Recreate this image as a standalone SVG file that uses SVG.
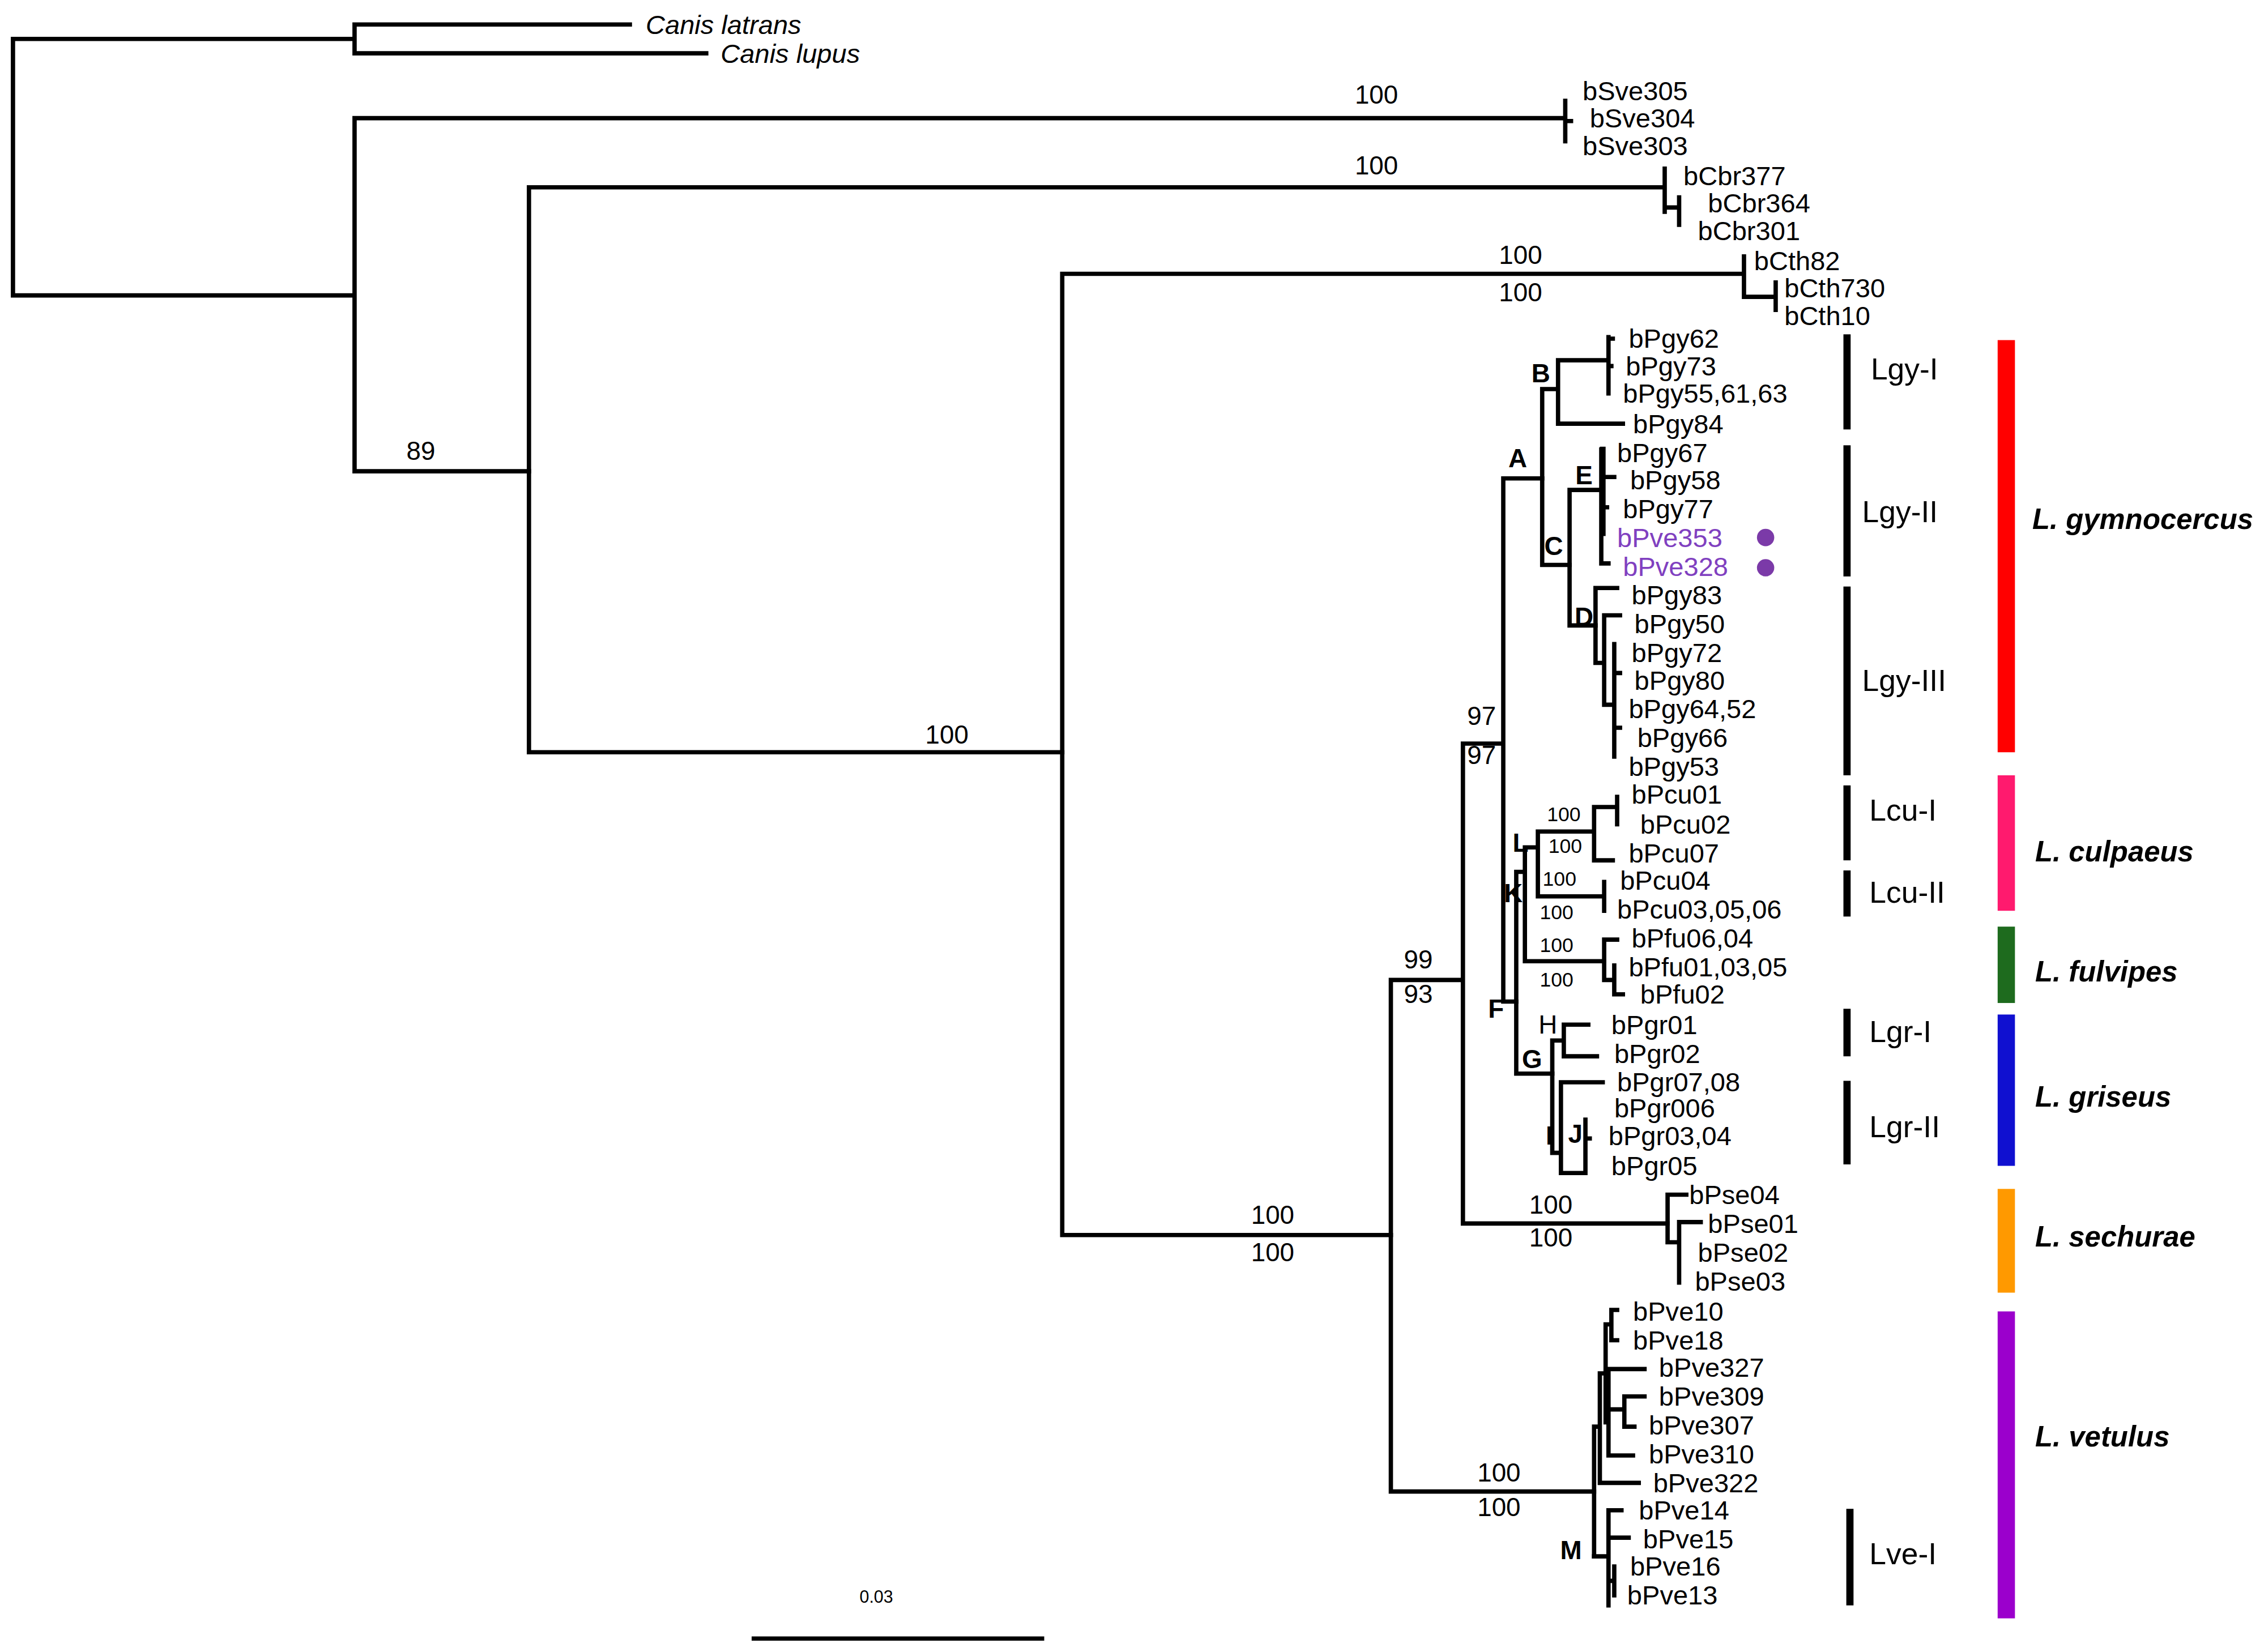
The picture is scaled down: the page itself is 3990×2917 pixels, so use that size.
<svg xmlns="http://www.w3.org/2000/svg" width="3990" height="2917" viewBox="0 0 3990 2917">
<style>
text{font-family:"Liberation Sans",Arial,sans-serif;dominant-baseline:central;fill:#000}
.t{font-size:18.5px}
.s{font-size:18px;text-anchor:middle}
.ss{font-size:14px;text-anchor:middle}
.n{font-size:18px;font-weight:bold;text-anchor:middle}
.c{font-size:21px}
.sp{font-size:20px;font-weight:bold;font-style:italic}
.pv{fill:#8040c0}
.br{fill:none;stroke:#000;stroke-width:3;stroke-linecap:square}
</style>
<rect width="3990" height="2917" fill="#fff"/>
<g transform="scale(2.5446)">
<g id="connectors" class="br">
<path d="M9 27V205M9 27H246M9 205H246M246 17V37M246 17H437M246 37H490M246 82V327M246 82H1086M246 327H367M1086 70V98M1086 84H1090"/>
<path d="M367 130V522M367 130H1155M367 522H737M1155 117V147M1155 144H1165M1165 137V156"/>
<path d="M737 190V857M737 190H1210M737 857H965M1210 178V206M1210 206H1232M1232 196V215"/>
<path d="M965 680V1035M965 680H1015M965 1035H1106M1015 516V849M1015 516H1043M1015 849H1157M1043 332V695M1043 332H1070M1043 695H1052"/>
<path d="M1070 270V392M1070 270H1081M1070 392H1089M1081 250V294M1081 250H1116M1081 294H1126M1116 234V273M1116 235H1119M1116 254H1118"/>
<path d="M1089 340V434M1089 340H1111M1089 434H1107M1111 312V391M1111 331H1120M1111 352H1115M1111 391H1116"/>
<path d="M1112 312V370" style="stroke-width:4"/>
<path d="M1107 408V460M1107 408H1122M1107 460H1113M1113 427V489M1113 427H1124M1113 489H1120M1120 447V525M1120 467H1124M1120 505H1124"/>
<path d="M1052 605V745M1052 605H1058M1052 745H1077M1058 588V667M1058 588H1067M1058 667H1113M1067 577V622M1067 577H1106M1067 622H1113M1106 560V597M1106 560H1122M1106 597H1119M1122 553V572M1113 612V632"/>
<path d="M1113 652V680M1113 652H1122M1113 680H1120M1120 670V690M1120 690H1126"/>
<path d="M1077 722V800M1077 722H1085M1077 800H1083M1085 711V733M1085 711H1102M1085 733H1108M1083 751V814M1083 751H1112M1083 814H1100M1100 777V814M1100 790H1103"/>
<path d="M1157 829V862M1157 829H1170M1157 862H1165M1165 848V890M1165 848H1180"/>
<path d="M1106 990V1080M1106 990H1110M1110 953V1029M1110 1029H1137M1110 953H1114M1114 919V987M1114 919H1118M1118 909V930M1118 909H1122M1118 930H1122M1116 950V1010M1116 950H1141M1116 978H1127M1127 969V990M1127 969H1141M1127 990H1134M1116 1010H1133"/>
<path d="M1106 1080H1116M1116 1048V1114M1116 1048H1125M1116 1067H1130M1116 1097H1120M1120 1087V1107"/>
<path d="M523 1137H723"/>
</g>
<g id="support">
<text class="s" x="955" y="66">100</text><text class="s" x="955" y="115">100</text>
<text class="s" x="1055" y="177">100</text><text class="s" x="1055" y="203">100</text>
<text class="s" x="292" y="313">89</text><text class="s" x="657" y="510">100</text>
<text class="s" x="883" y="843">100</text><text class="s" x="883" y="869">100</text>
<text class="s" x="984" y="666">99</text><text class="s" x="984" y="690">93</text>
<text class="s" x="1028" y="497">97</text><text class="s" x="1028" y="524">97</text>
<text class="s" x="1076" y="836">100</text><text class="s" x="1076" y="859">100</text>
<text class="s" x="1040" y="1022">100</text><text class="s" x="1040" y="1046">100</text>
<text class="ss" x="1085" y="565">100</text><text class="ss" x="1086" y="587">100</text>
<text class="ss" x="1082" y="610">100</text><text class="ss" x="1080" y="633">100</text>
<text class="ss" x="1080" y="656">100</text><text class="ss" x="1080" y="680">100</text>
<text class="ss" x="608" y="1108" style="font-size:12px">0.03</text>
</g>
<g id="nodes">
<text class="n" x="1053" y="318">A</text><text class="n" x="1069" y="259">B</text>
<text class="n" x="1078" y="379">C</text><text class="n" x="1099" y="428">D</text>
<text class="n" x="1099" y="330">E</text><text class="n" x="1038" y="700">F</text>
<text class="n" x="1063" y="735">G</text><text class="n" x="1074" y="711" style="font-weight:normal">H</text>
<text class="n" x="1075" y="788">I</text><text class="n" x="1093" y="787">J</text>
<text class="n" x="1050" y="620">K</text><text class="n" x="1055" y="585">L</text>
<text class="n" x="1090" y="1076">M</text>
</g>
<g id="outgroup">
<text class="t" x="448" y="17" font-style="italic">Canis latrans</text>
<text class="t" x="500" y="37" font-style="italic">Canis lupus</text>
<text class="t" x="1098" y="63">bSve305</text><text class="t" x="1103" y="82">bSve304</text><text class="t" x="1098" y="101">bSve303</text>
<text class="t" x="1168" y="122">bCbr377</text><text class="t" x="1185" y="141">bCbr364</text><text class="t" x="1178" y="160">bCbr301</text>
<text class="t" x="1217" y="181">bCth82</text><text class="t" x="1238" y="200">bCth730</text><text class="t" x="1238" y="219">bCth10</text>
</g>
<g id="gymnocercus">
<text class="t" x="1130" y="235">bPgy62</text><text class="t" x="1128" y="254">bPgy73</text>
<text class="t" x="1126" y="273">bPgy55,61,63</text><text class="t" x="1133" y="294">bPgy84</text>
<text class="t" x="1122" y="314">bPgy67</text><text class="t" x="1131" y="333">bPgy58</text>
<text class="t" x="1126" y="353">bPgy77</text>
<text class="t pv" x="1122" y="373">bPve353</text><text class="t pv" x="1126" y="393">bPve328</text>
<circle cx="1225" cy="373" r="6" fill="#7b3aa8"/><circle cx="1225" cy="394" r="6" fill="#7b3aa8"/>
<text class="t" x="1132" y="413">bPgy83</text><text class="t" x="1134" y="433">bPgy50</text>
<text class="t" x="1132" y="453">bPgy72</text><text class="t" x="1134" y="472">bPgy80</text>
<text class="t" x="1130" y="492">bPgy64,52</text><text class="t" x="1136" y="512">bPgy66</text>
<text class="t" x="1130" y="532">bPgy53</text>
</g>
<g id="culpaeus-fulvipes-griseus">
<text class="t" x="1132" y="551">bPcu01</text><text class="t" x="1138" y="572">bPcu02</text>
<text class="t" x="1130" y="592">bPcu07</text><text class="t" x="1124" y="611">bPcu04</text>
<text class="t" x="1122" y="631">bPcu03,05,06</text>
<text class="t" x="1132" y="651">bPfu06,04</text><text class="t" x="1130" y="671">bPfu01,03,05</text>
<text class="t" x="1138" y="690">bPfu02</text>
<text class="t" x="1118" y="711">bPgr01</text><text class="t" x="1120" y="731">bPgr02</text>
<text class="t" x="1122" y="751">bPgr07,08</text><text class="t" x="1120" y="769">bPgr006</text>
<text class="t" x="1116" y="788">bPgr03,04</text><text class="t" x="1118" y="809">bPgr05</text>
</g>
<g id="sechurae-vetulus">
<text class="t" x="1172" y="829">bPse04</text><text class="t" x="1185" y="849">bPse01</text>
<text class="t" x="1178" y="869">bPse02</text><text class="t" x="1176" y="889">bPse03</text>
<text class="t" x="1133" y="910">bPve10</text><text class="t" x="1133" y="930">bPve18</text>
<text class="t" x="1151" y="949">bPve327</text><text class="t" x="1151" y="969">bPve309</text>
<text class="t" x="1144" y="989">bPve307</text><text class="t" x="1144" y="1009">bPve310</text>
<text class="t" x="1147" y="1029">bPve322</text><text class="t" x="1137" y="1048">bPve14</text>
<text class="t" x="1140" y="1068">bPve15</text><text class="t" x="1131" y="1087">bPve16</text>
<text class="t" x="1129" y="1107">bPve13</text>
</g>
<g id="clades">
<rect x="1279" y="232" width="5" height="66"/><text class="c" x="1298" y="256">Lgy-I</text>
<rect x="1279" y="309" width="5" height="91"/><text class="c" x="1292" y="355">Lgy-II</text>
<rect x="1279" y="407" width="5" height="131"/><text class="c" x="1292" y="472">Lgy-III</text>
<rect x="1279" y="545" width="5" height="52"/><text class="c" x="1297" y="562">Lcu-I</text>
<rect x="1279" y="604" width="5" height="32"/><text class="c" x="1297" y="619">Lcu-II</text>
<rect x="1279" y="700" width="5" height="33"/><text class="c" x="1297" y="716">Lgr-I</text>
<rect x="1279" y="750" width="5" height="58"/><text class="c" x="1297" y="782">Lgr-II</text>
<rect x="1281" y="1047" width="5" height="67"/><text class="c" x="1297" y="1078">Lve-I</text>
</g>
<g id="species">
<rect x="1386" y="236" width="12" height="286" fill="#ff0000"/><text class="sp" x="1410" y="360">L. gymnocercus</text>
<rect x="1386" y="538" width="12" height="94" fill="#ff1a6e"/><text class="sp" x="1412" y="591">L. culpaeus</text>
<rect x="1386" y="643" width="12" height="53" fill="#1e6b1e"/><text class="sp" x="1412" y="674">L. fulvipes</text>
<rect x="1386" y="704" width="12" height="105" fill="#1010d0"/><text class="sp" x="1412" y="761">L. griseus</text>
<rect x="1386" y="825" width="12" height="72" fill="#ff9900"/><text class="sp" x="1412" y="858">L. sechurae</text>
<rect x="1386" y="910" width="12" height="213" fill="#9b00cc"/><text class="sp" x="1412" y="997">L. vetulus</text>
</g>
</g>
</svg>
